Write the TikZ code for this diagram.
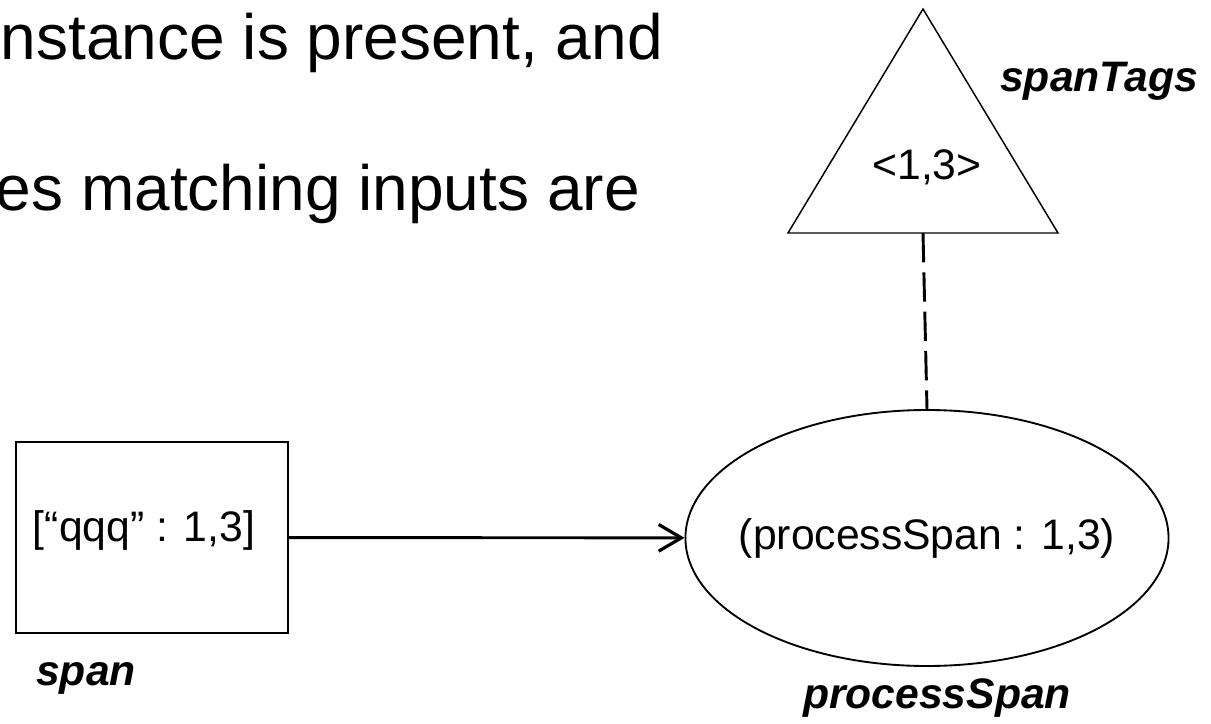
\documentclass[tikz,border=0pt]{standalone}
\usepackage{fontspec}
\setmainfont{Liberation Sans}
\usetikzlibrary{arrows.meta,shapes.geometric}

\begin{document}
\begin{tikzpicture}[x=0.75pt,y=-0.75pt,
        bodytext/.style={font=\fontsize{48}{58}\selectfont, inner sep=0pt},
        valtext/.style={font=\fontsize{32}{38}\selectfont, inner sep=0pt},
        tagname/.style={font=\fontsize{32}{38}\selectfont\bfseries\itshape, inner sep=0pt},
        databox/.style={draw, line width=1.7pt, minimum width=204pt, minimum height=143pt, inner sep=0pt},
        procnode/.style={draw, ellipse, line width=1.4pt, minimum width=360pt, minimum height=192pt, inner xsep=-13pt, inner ysep=0pt, font=\fontsize{32}{38}\selectfont},
        tagshape/.style={draw, line width=1.1pt, line join=miter},
        flow/.style={line width=2.2pt, -{Straight Barb[length=17pt,width=20pt,line width=2.4pt]}},
        tagline/.style={line width=2.2pt, dash pattern=on 22pt off 7.5pt}]
            \useasboundingbox (0,0) rectangle (1211,724);
            % slide text
            \node[bodytext, anchor=base east] (line_1) at (663,60) {nstance is present, and};
            \node[bodytext, anchor=base east] (line_2) at (640,210) {es matching inputs are};
            % span
            \node[databox] (spanbox) at (152,537.5) {};
            \node[valtext, anchor=base] (spanval) at (144,541) {[“qqq” : 1,3]};
            \node[tagname, anchor=base west] (spanname) at (36,685) {span};
            % processSpan
            \node[procnode] (proc) at (927,538) {(processSpan : 1,3)};
            \node[tagname, anchor=base] (procname) at (937,708) {processSpan};
            % spanTags
            \coordinate (tags_top) at (923,9);
            \coordinate (tags_right) at (1058,233);
            \coordinate (tags_left) at (788,233);
            \coordinate (tags_base) at (923,233);
            \draw[tagshape] (tags_top) -- (tags_right) -- (tags_left) -- cycle;
            \node[valtext, anchor=base] (tagsval) at (927,180) {<1,3>};
            \node[tagname, anchor=base west] (tagsname) at (1000,92) {spanTags};
            \path
                (spanbox) edge[flow] (proc)
                (tags_base) edge[tagline] (proc.north);
        \end{tikzpicture}
\end{document}
